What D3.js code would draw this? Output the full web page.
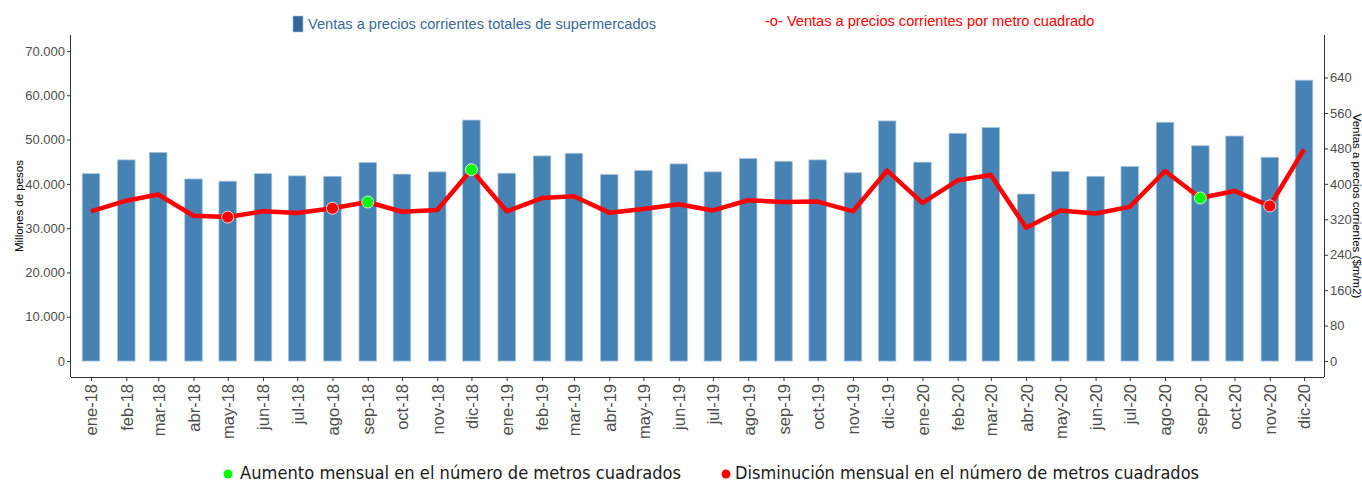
<!DOCTYPE html>
<html>
<head>
<meta charset="utf-8">
<script src="https://cdn.jsdelivr.net/npm/d3@7"></script>
<style>
  body { margin: 0; background: #fff; }
  svg { font-family: "Liberation Sans", Arial, sans-serif; }
  .axis text { fill: #4d4d4d; }
  .axis path, .axis line { stroke: #333; }
</style>
</head>
<body>
<div id="chart"></div>
<script>
// months (first day of each month) and labels
var months = ["ene-18","feb-18","mar-18","abr-18","may-18","jun-18","jul-18","ago-18","sep-18","oct-18","nov-18","dic-18",
              "ene-19","feb-19","mar-19","abr-19","may-19","jun-19","jul-19","ago-19","sep-19","oct-19","nov-19","dic-19",
              "ene-20","feb-20","mar-20","abr-20","may-20","jun-20","jul-20","ago-20","sep-20","oct-20","nov-20","dic-20"];

// ventas totales, millones de pesos
var ventasTotales = [42300, 45400, 47100, 41100, 40600, 42300, 41800, 41700, 44800, 42200, 42700, 54400,
                     42400, 46300, 46900, 42100, 43000, 44500, 42700, 45700, 45100, 45400, 42500, 54200,
                     44900, 51400, 52700, 37700, 42800, 41700, 43900, 53900, 48600, 50800, 46000, 63400];

// ventas por metro cuadrado, $m/m2
var ventasM2 = [338, 362, 376, 328, 325, 338, 334, 345, 359, 337, 341, 432,
                338, 368, 372, 335, 343, 354, 340, 363, 359, 360, 338, 430,
                357, 408, 420, 301, 340, 333, 348, 429, 368, 384, 350, 478];

// cambio mensual en metros cuadrados: 1 aumento, -1 disminucion, 0 sin punto
var cambioM2 = [0, 0, 0, 0, -1, 0, 0, -1, 1, 0, 0, 1,
                0, 0, 0, 0, 0, 0, 0, 0, 0, 0, 0, 0,
                0, 0, 0, 0, 0, 0, 0, 0, 1, 0, -1, 0];

var leftTicks = [0, 10000, 20000, 30000, 40000, 50000, 60000, 70000];
var rightTicks = [0, 80, 160, 240, 320, 400, 480, 560, 640];

var width = 1362, height = 482;
var panel = { left: 71, right: 1324, top: 35, bottom: 377 };

var data = months.map(function(m, i){
    return {
        label: m,
        date: new Date(Date.UTC(2018 + Math.floor(i / 12), i % 12, 1)),
        total: ventasTotales[i],
        m2: ventasM2[i],
        cambio: cambioM2[i]
    };
});

var es = d3.formatLocale({ decimal: ",", thousands: ".", grouping: [3], currency: ["$", ""] });

var svg = d3.select("#chart").append("svg")
    .attr("width", width)
    .attr("height", height);

// time scale, so month spacing follows month length
var x = d3.scaleUtc()
    .domain([new Date(Date.UTC(2018, 0, 1)), new Date(Date.UTC(2020, 11, 1))])
    .range([91, 1304]);

var y = d3.scaleLinear()
    .domain([-3600, 73600])
    .range([panel.bottom, panel.top]);

// secondary axis = primary / 100
var y2 = d3.scaleLinear()
    .domain([-36, 736])
    .range([panel.bottom, panel.top]);

var barW = 17.5;

svg.append("g")
    .selectAll("rect")
    .data(data)
    .enter()
    .append("rect")
    .attr("x", function(d){ return x(d.date) - barW / 2; })
    .attr("y", function(d){ return y(d.total); })
    .attr("width", barW)
    .attr("height", function(d){ return y(0) - y(d.total); })
    .attr("fill", "#4682b4")
    .attr("stroke", "#a7c3de")
    .attr("stroke-width", 0.8);

var line = d3.line()
    .x(function(d){ return x(d.date); })
    .y(function(d){ return y2(d.m2); });

svg.append("path")
    .datum(data)
    .attr("d", line)
    .attr("fill", "none")
    .attr("stroke", "#ff0000")
    .attr("stroke-width", 4.5)
    .attr("stroke-linejoin", "round");

svg.append("g")
    .selectAll("circle")
    .data(data.filter(function(d){ return d.cambio != 0; }))
    .enter()
    .append("circle")
    .attr("cx", function(d){ return x(d.date); })
    .attr("cy", function(d){ return y2(d.m2); })
    .attr("r", 6)
    .attr("fill", function(d){ return d.cambio > 0 ? "#00ff00" : "#ff0000"; })
    .attr("stroke", "#ffffff")
    .attr("stroke-width", 0.8);

// axes
var xAxis = svg.append("g")
    .attr("class", "axis")
    .attr("transform", "translate(0," + panel.bottom + ")")
    .call(d3.axisBottom(x)
        .tickValues(data.map(function(d){ return d.date; }))
        .tickFormat(function(d, i){ return months[i]; })
        .tickSize(4)
        .tickSizeOuter(0));
xAxis.select(".domain").attr("d", "M" + panel.left + ",0.5H" + panel.right);
xAxis.selectAll("text")
    .attr("transform", "rotate(-90)")
    .attr("x", -7)
    .attr("y", 0)
    .attr("dy", "0.36em")
    .style("text-anchor", "end")
    .style("font-size", "16.5px");

var yAxis = svg.append("g")
    .attr("class", "axis")
    .attr("transform", "translate(" + panel.left + ",0)")
    .call(d3.axisLeft(y)
        .tickValues(leftTicks)
        .tickFormat(es.format(",d"))
        .tickSize(4)
        .tickSizeOuter(0));
yAxis.select(".domain").attr("d", "M-0.5," + panel.top + "V" + panel.bottom);
yAxis.selectAll("text").style("font-size", "13px").attr("x", -6);

var y2Axis = svg.append("g")
    .attr("class", "axis")
    .attr("transform", "translate(" + panel.right + ",0)")
    .call(d3.axisRight(y2)
        .tickValues(rightTicks)
        .tickSize(4)
        .tickSizeOuter(0));
y2Axis.select(".domain").attr("d", "M0.5," + panel.top + "V" + panel.bottom).attr("stroke", "#555");
y2Axis.selectAll("text").style("font-size", "13px").attr("x", 6);

// axis titles
svg.append("text")
    .attr("transform", "translate(23," + ((panel.top + panel.bottom) / 2) + ") rotate(-90)")
    .style("text-anchor", "middle")
    .style("font-size", "11.5px")
    .attr("fill", "#000")
    .text("Millones de pesos");

svg.append("text")
    .attr("transform", "translate(1353," + ((panel.top + panel.bottom) / 2) + ") rotate(90)")
    .style("text-anchor", "middle")
    .style("font-size", "11.5px")
    .attr("fill", "#000")
    .text("Ventas a precios corrientes ($m/m2)");

// top legend
svg.append("rect")
    .attr("x", 293).attr("y", 16)
    .attr("width", 10).attr("height", 16)
    .attr("fill", "#336699")
    .attr("stroke", "#a7c3de")
    .attr("stroke-width", 0.6);
svg.append("text")
    .attr("x", 308).attr("y", 29)
    .style("font-size", "14.6px")
    .attr("fill", "#3a6897")
    .text("Ventas a precios corrientes totales de supermercados");
svg.append("text")
    .attr("x", 765).attr("y", 26)
    .style("font-size", "14.6px")
    .attr("fill", "#ff0000")
    .text("-o- Ventas a precios corrientes por metro cuadrado");

// bottom legend
var bottomLegend = [
    { color: "#00ff00", cx: 228, tx: 240, w: 441, text: "Aumento mensual en el número de metros cuadrados" },
    { color: "#ff0000", cx: 726, tx: 735, w: 464, text: "Disminución mensual en el número de metros cuadrados" }
];
var bl = svg.append("g");
bl.selectAll("circle")
    .data(bottomLegend)
    .enter()
    .append("circle")
    .attr("cx", function(d){ return d.cx; })
    .attr("cy", 474)
    .attr("r", 4.5)
    .attr("fill", function(d){ return d.color; });
bl.selectAll("text")
    .data(bottomLegend)
    .enter()
    .append("text")
    .attr("x", function(d){ return d.tx; })
    .attr("y", 479)
    .attr("textLength", function(d){ return d.w; })
    .attr("lengthAdjust", "spacingAndGlyphs")
    .style("font-family", "'DejaVu Sans', sans-serif")
    .style("font-size", "17px")
    .attr("fill", "#1a1a1a")
    .text(function(d){ return d.text; });
</script>
</body>
</html>
